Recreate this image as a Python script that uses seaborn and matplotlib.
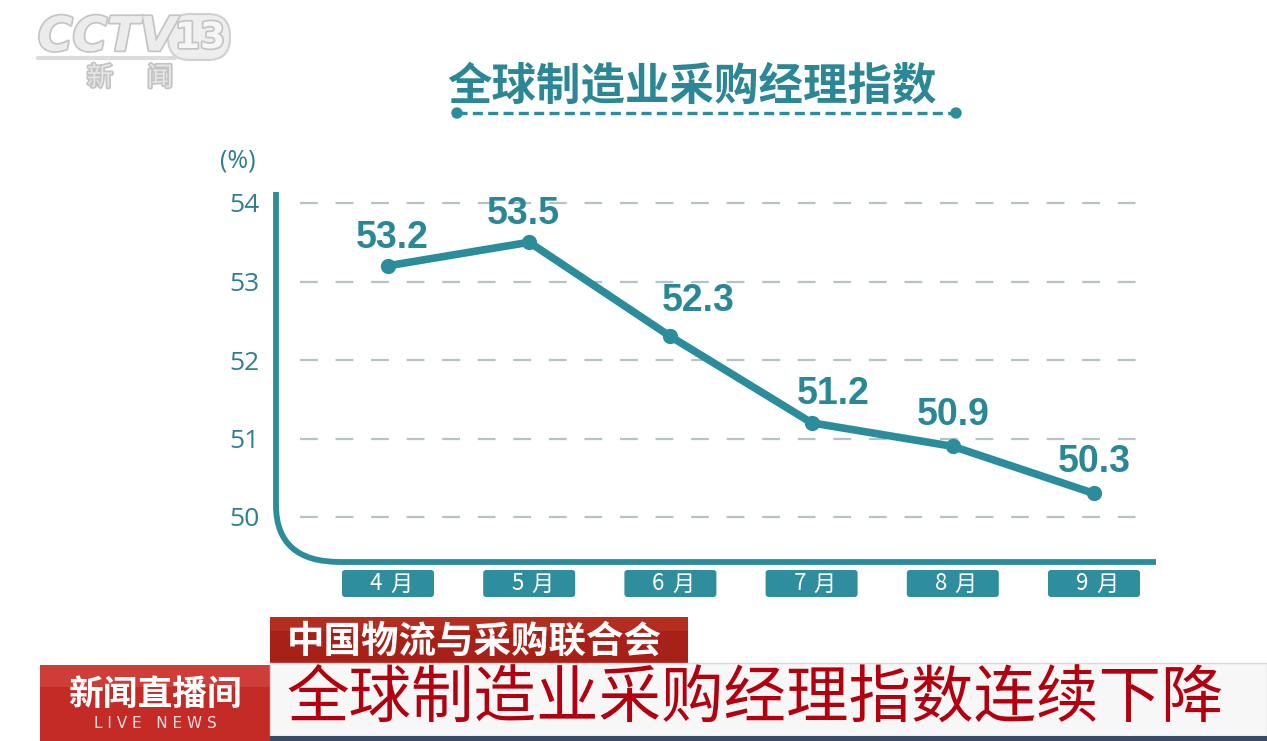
import numpy as np
import pandas as pd
import matplotlib
matplotlib.use("Agg")
import matplotlib.pyplot as plt
import seaborn as sns
from matplotlib.patches import FancyBboxPatch, PathPatch, Rectangle, Circle
from matplotlib.path import Path
import matplotlib.patheffects as pe

# datos
meses = ["4 月", "5 月", "6 月", "7 月", "8 月", "9 月"]
pmi = [53.2, 53.5, 52.3, 51.2, 50.9, 50.3]
yticks = [50, 51, 52, 53, 54]
titulo = "全球制造业采购经理指数"
fuente = "中国物流与采购联合会"
titular = "全球制造业采购经理指数连续下降"
programa = "新闻直播间"

# offsets de etiquetas (pixeles)
label_off = [(4, 28), (-6, 28), (28, 35), (22, 29), (0, 31), (0, 31)]

TEAL = "#2b8c9b"
CJK = ["Noto Sans CJK SC", "DejaVu Sans"]

sns.set_style("white")
plt.rcParams["font.family"] = CJK

W, H = 1267, 741
fig = plt.figure(figsize=(W / 100, H / 100), dpi=100)
fig.patch.set_facecolor("white")

# capa de fondo en pixeles
bg = fig.add_axes([0, 0, 1, 1], zorder=0)
bg.set_xlim(0, W)
bg.set_ylim(H, 0)
bg.axis("off")

# ejes de datos
px_per_x = 141.2
x0_px = 388
left_px, right_px, top_px, bot_px = 276, 1160, 192, 562
y_top = 54 + (203 - top_px) / 78.5
y_bot = 50 - (bot_px - 517) / 78.5
ax = fig.add_axes([left_px / W, (H - bot_px) / H, (right_px - left_px) / W, (bot_px - top_px) / H], zorder=2)
ax.patch.set_alpha(0)

df = pd.DataFrame({"idx": range(len(meses)), "mes": meses, "pmi": pmi})
sns.lineplot(data=df, x="idx", y="pmi", ax=ax, color=TEAL, lw=5.5,
             marker="o", markersize=11, markeredgewidth=0, zorder=3)

ax.set_xlim((left_px - x0_px) / px_per_x, (right_px - x0_px) / px_per_x)
ax.set_ylim(y_bot, y_top)
for s in ax.spines.values():
    s.set_visible(False)
ax.set_xticks([])
ax.set_yticks(yticks)
ax.set_yticklabels([str(t) for t in yticks], fontsize=19, color="#2e7f8e", family="Open Sans")
ax.tick_params(axis="y", length=0, pad=12)
ax.set_xlabel("")
ax.set_ylabel("")

# grid punteada
g0 = (300 - x0_px) / px_per_x
g1 = (1153 - x0_px) / px_per_x
ax.hlines(yticks, g0, g1, colors="#b5c3c7", lw=1.6, linestyles=(0, (8, 8)), zorder=1)

# etiquetas de valores
for i, v in enumerate(pmi):
    ax.annotate(f"{v:.1f}", (i, v), xytext=label_off[i], textcoords="offset pixels",
                ha="center", va="center", fontsize=27, fontweight="bold",
                color="#2a8796", family="Liberation Sans", zorder=4)

# eje curvo
verts = [(276, 192), (276, 505), (276, 562), (340, 562), (1156, 562)]
codes = [Path.MOVETO, Path.LINETO, Path.CURVE3, Path.CURVE3, Path.LINETO]
bg.add_patch(PathPatch(Path(verts, codes), fill=False, ec=TEAL, lw=4.2, capstyle="butt"))

bg.text(238, 161, "(%)", ha="center", va="center", fontsize=18, color="#2e7f8e", family="Open Sans")

# cajas de meses
fig.canvas.draw()
for i, m in enumerate(meses):
    cx = ax.transData.transform((i, 50))[0]
    bg.add_patch(FancyBboxPatch((cx - 46, 570), 92, 27, boxstyle="round,pad=0,rounding_size=3",
                                fc="#2f8e9d", ec="none"))
    num, mes = m.split()
    bg.text(cx - 12, 584, num, ha="center", va="center", fontsize=16, color="white")
    bg.text(cx + 13, 584, mes, ha="center", va="center", fontsize=16, color="white")

# titulo
bg.text(692, 87, titulo, ha="center", va="center", fontsize=32, fontweight="bold", color="#2b8795")
bg.plot([457, 956], [113, 113], color=TEAL, lw=2.4, ls=(0, (3, 1.6)))
bg.add_patch(Circle((457, 113), 5, color=TEAL))
bg.add_patch(Circle((956, 113), 5, color=TEAL))

# logo
stroke = [pe.withStroke(linewidth=2.5, foreground="#c4c4c4")]
bg.text(38, 38, "CCTV", ha="left", va="center", fontsize=34, fontweight="bold", style="italic",
        color="#ececec", family="DejaVu Sans", path_effects=stroke)
bg.add_patch(FancyBboxPatch((168, 14), 62, 46, boxstyle="round,pad=0,rounding_size=22",
                            fc="#eeeeee", ec="#d0d0d0", lw=1.5))
bg.text(200, 38, "13", ha="center", va="center", fontsize=26, fontweight="bold", color="#f6f6f6",
        family="DejaVu Sans", path_effects=stroke)
bg.plot([38, 175], [58, 58], color="#dcdcdc", lw=3)
bg.text(100, 78, "新", ha="center", va="center", fontsize=19, color="#e6e6e6", path_effects=stroke)
bg.text(160, 78, "闻", ha="center", va="center", fontsize=19, color="#e6e6e6", path_effects=stroke)

# banner inferior
bg.add_patch(Rectangle((270, 617), 418, 46, fc="#a82118", ec="none"))
bg.add_patch(Rectangle((270, 617), 418, 14, fc="#c0392b", ec="none", alpha=0.5))
bg.text(287, 641, fuente, ha="left", va="center", fontsize=27, fontweight="bold", color="white")

bg.add_patch(Rectangle((40, 665), 230, 76, fc="#c42a26", ec="none"))
bg.add_patch(Rectangle((40, 665), 230, 22, fc="#d8504a", ec="none", alpha=0.5))
bg.text(155, 694, programa, ha="center", va="center", fontsize=25, fontweight="bold", color="white")
bg.text(155, 724, "L I V E   N E W S", ha="center", va="center", fontsize=11, color="#f2dede",
        family="DejaVu Sans")

bg.add_patch(Rectangle((270, 663), 997, 73, fc="#f7f7f7", ec="#d8d8d8", lw=1))
bg.add_patch(Rectangle((270, 736), 997, 5, fc="#3d4a66", ec="none"))
bg.text(755, 700, titular, ha="center", va="center", fontsize=45, color="#b3000e")

fig.savefig("out.png", dpi=100, facecolor="white")
